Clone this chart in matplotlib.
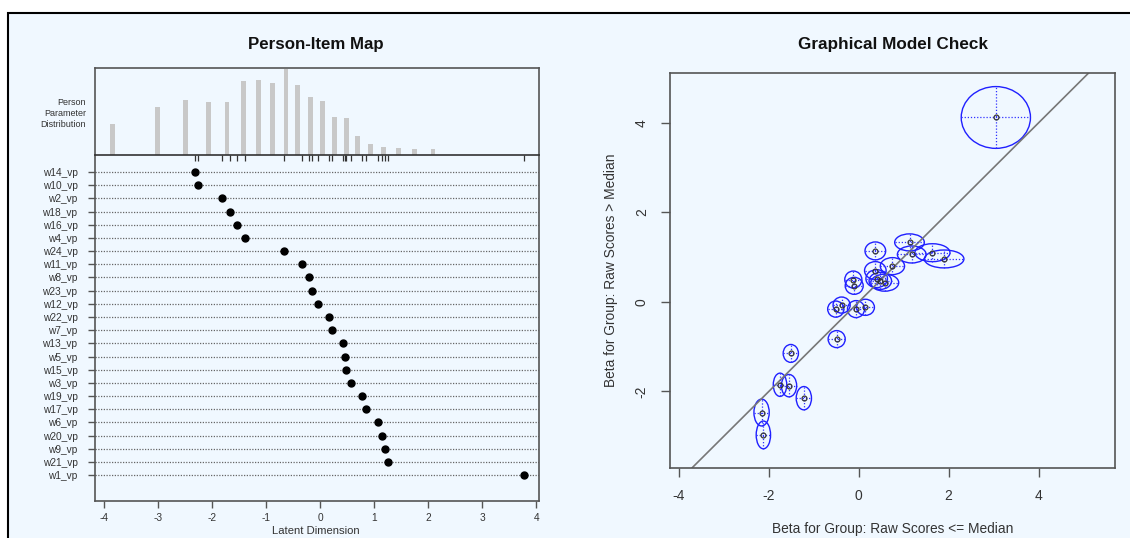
import matplotlib.pyplot as plt
from matplotlib.patches import Ellipse, Rectangle

plt.rcParams['font.family'] = ['Liberation Sans', 'DejaVu Sans']
# R draws plain hyphens for negative tick labels
plt.rcParams['axes.unicode_minus'] = False

# background colour of the R graphics window
bg = '#F0F8FF'
spine_col = '#555555'
text_col = '#333333'

# items, from top row to bottom row, with their location on the latent dimension
items = ['w14_vp', 'w10_vp', 'w2_vp', 'w18_vp', 'w16_vp', 'w4_vp', 'w24_vp', 'w11_vp',
         'w8_vp', 'w23_vp', 'w12_vp', 'w22_vp', 'w7_vp', 'w13_vp', 'w5_vp', 'w15_vp',
         'w3_vp', 'w19_vp', 'w17_vp', 'w6_vp', 'w20_vp', 'w9_vp', 'w21_vp', 'w1_vp']
item_loc = [-2.31, -2.26, -1.81, -1.67, -1.54, -1.39, -0.67, -0.34,
            -0.21, -0.15, -0.03, 0.16, 0.23, 0.42, 0.47, 0.48,
            0.58, 0.78, 0.85, 1.07, 1.14, 1.21, 1.25, 3.77]

# person parameter distribution (estimated frequencies)
person_theta = [-3.83, -3.00, -2.48, -2.07, -1.72, -1.41, -1.14, -0.88, -0.63, -0.41,
                -0.17, 0.04, 0.26, 0.49, 0.70, 0.94, 1.18, 1.45, 1.75, 2.09]
person_freq = [10, 15.8, 17.9, 17.3, 17.3, 24.2, 24.5, 23.6, 28.2, 22.7,
               19, 17.5, 12.4, 12.1, 6.2, 3.5, 2.7, 2.3, 2, 2]

# graphical model check: betas in the two groups and confidence half widths
beta_low = [3.05, 0.37, 1.13, 1.18, 1.64, 1.90, 0.75, 0.37, 0.40, 0.58, 0.48, -0.12,
            -0.10, -0.51, -0.38, -0.06, 0.15, -0.49, -1.51, -1.75, -1.55, -1.22, -2.16, -2.12]
beta_high = [4.12, 1.14, 1.33, 1.06, 1.10, 0.96, 0.80, 0.70, 0.52, 0.43, 0.47, 0.50,
             0.36, -0.16, -0.07, -0.16, -0.12, -0.83, -1.15, -1.85, -1.87, -2.15, -2.47, -2.97]
ci_low = [0.77, 0.23, 0.33, 0.32, 0.39, 0.44, 0.27, 0.24, 0.24, 0.31, 0.25, 0.19,
          0.20, 0.18, 0.19, 0.19, 0.20, 0.19, 0.17, 0.15, 0.17, 0.17, 0.17, 0.16]
ci_high = [0.69, 0.20, 0.19, 0.19, 0.20, 0.20, 0.19, 0.20, 0.20, 0.19, 0.19, 0.19,
           0.19, 0.18, 0.18, 0.19, 0.18, 0.19, 0.20, 0.26, 0.25, 0.26, 0.30, 0.31]

fig = plt.figure(figsize=(11.3, 5.38), dpi=100)
fig.patch.set_facecolor('white')
# framed light blue window
fig.patches.append(Rectangle((8 / 1130, -0.1), 1.2, 1 - 13 / 538 + 0.1, transform=fig.transFigure,
                             facecolor=bg, edgecolor='black', linewidth=1.5, zorder=-10))

xlim_map = (-4.17, 4.04)

# ---- Person-Item Map: lower panel with the items
ax_items = fig.add_axes([94.5 / 1130, 1 - 501 / 538, 444 / 1130, 346 / 538])
ax_items.set_facecolor('none')
rows = list(range(len(items), 0, -1))
ax_items.hlines(rows, xlim_map[0], xlim_map[1], colors='#666666', linestyles=(0, (1, 1.2)), linewidth=0.9)
ax_items.plot(item_loc, rows, 'o', color='black', markersize=5)
ax_items.set_xlim(xlim_map)
ax_items.set_ylim(-0.97, 25.3)
ax_items.set_yticks(rows)
ax_items.set_yticklabels(items)
ax_items.set_xticks(range(-4, 5))
ax_items.tick_params(axis='y', length=5.3, width=1, pad=7, labelsize=7.3, colors=spine_col, labelcolor=text_col)
ax_items.tick_params(axis='x', length=5, width=1, pad=3.5, labelsize=7.3, colors=spine_col, labelcolor=text_col)
for s in ['left', 'bottom', 'right']:
    ax_items.spines[s].set_color(spine_col)
    ax_items.spines[s].set_linewidth(1.2)
ax_items.spines['top'].set_visible(False)

# ---- Person-Item Map: upper panel with the person distribution
ax_hist = fig.add_axes([94.5 / 1130, 1 - 155 / 538, 444 / 1130, 87 / 538])
ax_hist.set_facecolor('none')
ax_hist.bar(person_theta, person_freq, width=0.09, color='#C8C8C8')
ax_hist.set_xlim(xlim_map)
ax_hist.set_ylim(0, 28.4)
ax_hist.set_yticks([])
# item locations shown as rug ticks under the histogram
ax_hist.set_xticks(item_loc)
ax_hist.set_xticklabels([])
ax_hist.tick_params(axis='x', length=4, width=0.9, colors='#333333')
for s in ax_hist.spines.values():
    s.set_color(spine_col)
    s.set_linewidth(1.2)
ax_hist.spines['bottom'].set_color('#333333')

fig.text(316 / 1130, 1 - 45 / 538, 'Person-Item Map', ha='center', va='center',
         fontsize=12.2, fontweight='bold', color='#111111')
fig.text(86 / 1130, 1 - 113.5 / 538, 'Person\nParameter\nDistribution', ha='right', va='center',
         multialignment='right', fontsize=6.5, linespacing=1.35, color=text_col)
fig.text(316 / 1130, 1 - 531 / 538, 'Latent Dimension', ha='center', va='center',
         fontsize=8.1, color=text_col)

# ---- Graphical Model Check
ax_gof = fig.add_axes([670.3 / 1130, 1 - 467.6 / 538, 444.7 / 1130, 394.9 / 538])
ax_gof.set_facecolor('none')
ax_gof.axline((0, 0), slope=1, color='#777777', linewidth=1.2)
for x, y, hx, hy in zip(beta_low, beta_high, ci_low, ci_high):
    ax_gof.add_patch(Ellipse((x, y), 2 * hx, 2 * hy, fill=False, edgecolor='#2020FF', linewidth=1))
    ax_gof.plot([x - hx, x + hx], [y, y], color='#3030FF', linestyle=(0, (1, 1.5)), linewidth=0.9)
    ax_gof.plot([x, x], [y - hy, y + hy], color='#3030FF', linestyle=(0, (1, 1.5)), linewidth=0.9)
ax_gof.plot(beta_low, beta_high, 'o', markerfacecolor='none', markeredgecolor='#333333',
            markersize=3.5, markeredgewidth=0.9)
ax_gof.set_xlim(-4.19, 5.70)
ax_gof.set_ylim(-3.70, 5.12)
ax_gof.set_xticks([-4, -2, 0, 2, 4])
ax_gof.set_yticks([-2, 0, 2, 4])
ax_gof.tick_params(axis='both', length=6.5, width=1, pad=9, labelsize=10, colors=spine_col, labelcolor=text_col)
for lab in ax_gof.get_yticklabels():
    lab.set_rotation(90)
    lab.set_va('center')
for s in ax_gof.spines.values():
    s.set_color(spine_col)
    s.set_linewidth(1.2)

fig.text(892.6 / 1130, 1 - 45 / 538, 'Graphical Model Check', ha='center', va='center',
         fontsize=12.3, fontweight='bold', color='#111111')
fig.text(892.6 / 1130, 1 - 529 / 538, 'Beta for Group: Raw Scores <= Median', ha='center', va='center',
         fontsize=9.9, color=text_col)
fig.text(611 / 1130, 1 - 270 / 538, 'Beta for Group: Raw Scores > Median', ha='center', va='center',
         rotation=90, fontsize=9.9, color=text_col)

plt.savefig('out.png', dpi=100)
